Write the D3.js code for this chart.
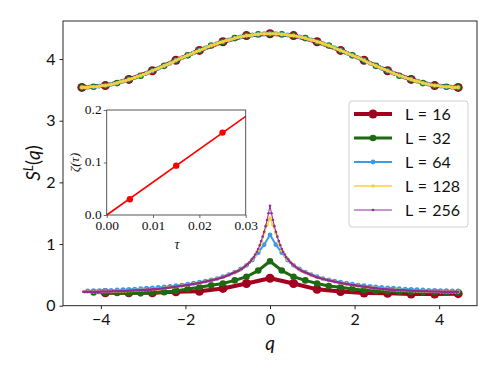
<!DOCTYPE html>
<html>
<head>
<meta charset="utf-8">
<script src="https://cdn.jsdelivr.net/npm/d3@7"></script>
<style>
body { margin: 0; background: white; }
svg text { font-family: "Lato", "DejaVu Sans", sans-serif; fill: #111; }
.inset text { font-family: "Liberation Serif", "DejaVu Serif", serif; }
</style>
</head>
<body>
<script>
// ---- data ----
var sizes = [16, 32, 64, 128, 256];
var qMax = 4.45;

// upper branch, q = -qMax..qMax (L+1 points)
var top16 = [3.54,3.57,3.67,3.81,3.98,4.14,4.28,4.38,4.41,4.38,4.28,4.14,3.98,3.81,3.67,3.57,3.54];
var top32 = [3.54,3.55,3.57,3.61,3.67,3.73,3.81,3.89,3.98,4.06,4.14,4.22,4.28,4.34,4.38,4.40,
  4.41,
  4.40,4.38,4.34,4.28,4.22,4.14,4.06,3.98,3.89,3.81,3.73,3.67,3.61,3.57,3.55,3.54];
var top64 = [3.54,3.54,3.55,3.56,3.57,3.59,3.61,3.64,3.67,3.70,3.73,3.77,3.81,3.85,3.89,3.93,
  3.98,4.02,4.06,4.10,4.14,4.18,4.22,4.25,4.28,4.31,4.34,4.36,4.38,4.39,4.40,4.41,
  4.41,
  4.41,4.40,4.39,4.38,4.36,4.34,4.31,4.28,4.25,4.22,4.18,4.14,4.10,4.06,4.02,3.98,
  3.93,3.89,3.85,3.81,3.77,3.73,3.70,3.67,3.64,3.61,3.59,3.57,3.56,3.55,3.54,3.54];
var top128 = [3.54,3.54,3.54,3.55,3.55,3.55,3.56,3.57,3.57,3.58,3.59,3.60,3.61,3.63,3.64,3.65,
  3.67,3.68,3.70,3.72,3.73,3.75,3.77,3.79,3.81,3.83,3.85,3.87,3.89,3.91,3.93,3.95,
  3.98,4.00,4.02,4.04,4.06,4.08,4.10,4.12,4.14,4.16,4.18,4.20,4.22,4.23,4.25,4.27,
  4.28,4.30,4.31,4.32,4.34,4.35,4.36,4.37,4.38,4.38,4.39,4.40,4.40,4.41,4.41,4.41,
  4.41,
  4.41,4.41,4.41,4.40,4.40,4.39,4.38,4.38,4.37,4.36,4.35,4.34,4.32,4.31,4.30,4.28,
  4.27,4.25,4.23,4.22,4.20,4.18,4.16,4.14,4.12,4.10,4.08,4.06,4.04,4.02,4.00,3.98,
  3.95,3.93,3.91,3.89,3.87,3.85,3.83,3.81,3.79,3.77,3.75,3.73,3.72,3.70,3.68,3.67,
  3.65,3.64,3.63,3.61,3.60,3.59,3.58,3.57,3.57,3.56,3.55,3.55,3.55,3.54,3.54,3.54];

// lower branch, q from -qMax+step..qMax (L points)
var bot16 = [0.21,0.21,0.21,0.225,0.235,0.28,0.36,0.445,0.36,0.265,0.23,0.205,0.20,0.19,0.19,0.195];
var bot32 = [0.215,0.21,0.205,0.20,0.20,0.21,0.22,0.24,0.27,0.30,0.33,0.36,0.41,0.47,0.57,
  0.72,
  0.57,0.47,0.41,0.36,0.32,0.30,0.27,0.25,0.24,0.235,0.23,0.225,0.22,0.22,0.215,0.215];
var bot64 = [0.24,0.245,0.245,0.25,0.25,0.255,0.26,0.265,0.27,0.275,0.285,0.29,0.295,0.305,0.315,0.325,
  0.335,0.35,0.365,0.38,0.40,0.42,0.44,0.47,0.505,0.545,0.595,0.655,0.74,0.86,0.99,
  1.15,
  0.99,0.86,0.74,0.655,0.595,0.545,0.505,0.47,0.44,0.42,0.40,0.38,0.365,0.35,0.335,0.325,
  0.315,0.305,0.295,0.29,0.285,0.275,0.27,0.265,0.26,0.255,0.25,0.25,0.245,0.245,0.24,0.24];
var bot128 = [0.225,0.225,0.225,0.225,0.225,0.225,0.23,0.23,0.23,0.23,0.235,0.235,0.235,0.24,0.24,0.245,
  0.245,0.25,0.25,0.255,0.255,0.26,0.26,0.265,0.27,0.275,0.28,0.285,0.29,0.295,0.30,0.31,
  0.315,0.32,0.33,0.34,0.345,0.35,0.36,0.37,0.38,0.39,0.40,0.41,0.42,0.435,0.45,0.46,
  0.48,0.50,0.52,0.54,0.56,0.59,0.62,0.66,0.70,0.75,0.82,0.90,1.01,1.18,1.31,
  1.42,
  1.31,1.18,1.01,0.90,0.82,0.75,0.70,0.66,0.62,0.59,0.56,0.54,0.52,0.50,0.48,
  0.46,0.45,0.435,0.42,0.41,0.40,0.39,0.38,0.37,0.36,0.35,0.345,0.34,0.33,0.32,0.315,
  0.31,0.30,0.295,0.29,0.285,0.28,0.275,0.27,0.265,0.26,0.26,0.255,0.255,0.25,0.25,0.245,
  0.245,0.24,0.24,0.235,0.235,0.235,0.23,0.23,0.23,0.23,0.225,0.225,0.225,0.225,0.225,0.225,
  0.225];
var bot256 = [0.225,0.225,0.225,0.225,0.225,0.225,0.225,0.225,
  0.225,0.225,0.225,0.225,0.23,0.23,0.23,0.23,
  0.23,0.23,0.23,0.23,0.235,0.235,0.235,0.235,
  0.235,0.235,0.24,0.24,0.24,0.24,0.24,0.245,
  0.245,0.245,0.245,0.25,0.25,0.25,0.25,0.255,
  0.255,0.255,0.255,0.26,0.26,0.26,0.26,0.265,
  0.265,0.27,0.27,0.275,0.275,0.28,0.28,0.285,
  0.285,0.29,0.29,0.295,0.30,0.30,0.305,0.31,
  0.31,0.315,0.32,0.32,0.325,0.33,0.335,0.34,
  0.34,0.345,0.35,0.35,0.355,0.36,0.365,0.37,
  0.375,0.38,0.385,0.39,0.395,0.40,0.405,0.41,
  0.415,0.42,0.43,0.435,0.44,0.45,0.455,0.46,
  0.47,0.48,0.49,0.50,0.51,0.52,0.53,0.54,
  0.55,0.56,0.57,0.59,0.60,0.62,0.64,0.66,
  0.68,0.70,0.73,0.76,0.79,0.83,0.87,0.92,
  0.98,1.05,1.12,1.20,1.29,1.39,1.50,
  1.62,
  1.50,1.39,1.29,1.20,1.12,1.05,0.98,
  0.92,0.87,0.83,0.79,0.76,0.73,0.70,0.68,
  0.66,0.64,0.62,0.60,0.59,0.57,0.56,0.55,
  0.54,0.53,0.52,0.51,0.50,0.49,0.48,0.47,
  0.46,0.455,0.45,0.44,0.435,0.43,0.42,0.415,
  0.41,0.405,0.40,0.395,0.39,0.385,0.38,0.375,
  0.37,0.365,0.36,0.355,0.35,0.35,0.345,0.34,
  0.34,0.335,0.33,0.325,0.32,0.32,0.315,0.31,
  0.31,0.305,0.30,0.30,0.295,0.29,0.29,0.285,
  0.285,0.28,0.28,0.275,0.275,0.27,0.27,0.265,
  0.265,0.26,0.26,0.26,0.26,0.255,0.255,0.255,
  0.255,0.25,0.25,0.25,0.25,0.245,0.245,0.245,
  0.245,0.24,0.24,0.24,0.24,0.24,0.235,0.235,
  0.235,0.235,0.235,0.235,0.23,0.23,0.23,0.23,
  0.23,0.23,0.23,0.23,0.225,0.225,0.225,0.225,
  0.225,0.225,0.225,0.225,0.225,0.225,0.225,0.225,
  0.225];

// inset: zeta(tau)
var tauVals = [0.005, 0.015, 0.025];
var zetaVals = [0.030, 0.094, 0.157];
var fitTau = [0, 0.03];
var fitZeta = [0, 0.188];

var xTicks = [-4, -2, 0, 2, 4];
var yTicks = [0, 1, 2, 3, 4];
var insetXTicks = [0, 0.01, 0.02, 0.03];
var insetYTicks = [0, 0.1, 0.2];

// ---- styles ----
var colors = ["#a1001f", "#1d6a12", "#3a9be8", "#f5d23c", "#8e2c9c"];
var lineW = [4, 3, 2, 1.4, 1];
var markR = [4.5, 3.3, 2.4, 1.8, 1.3];

var topData = [top16, top32, top64, top128, null];
var botData = [bot16, bot32, bot64, bot128, bot256];

var width = 498, height = 374;

var svg = d3.select("body").append("svg")
    .attr("width", width)
    .attr("height", height);

var x = d3.scaleLinear().domain([-4.895, 4.895]).range([63, 477]);
var y = d3.scaleLinear().domain([0, 4.617]).range([305.7, 21]);

// lattice momenta
function topPts(L, vals) {
  return vals.map(function(v, i) { return [(i - L / 2) * qMax / (L / 2), v]; });
}
function botPts(L, vals) {
  return vals.map(function(v, i) { return [(i - L / 2 + 1) * qMax / (L / 2), v]; });
}

var line = d3.line()
    .x(function(d) { return x(d[0]); })
    .y(function(d) { return y(d[1]); });

var g = svg.append("g");

function drawSeries(pts, k) {
  g.append("path")
    .attr("d", line(pts))
    .attr("fill", "none")
    .attr("stroke", colors[k])
    .attr("stroke-width", lineW[k])
    .attr("stroke-linejoin", "round");
  g.append("g").selectAll("circle")
    .data(pts)
    .enter().append("circle")
    .attr("cx", function(d) { return x(d[0]); })
    .attr("cy", function(d) { return y(d[1]); })
    .attr("r", markR[k])
    .attr("fill", colors[k]);
}

sizes.forEach(function(L, k) {
  if (topData[k]) drawSeries(topPts(L, topData[k]), k);
  drawSeries(botPts(L, botData[k]), k);
});

// axes
var fmt = function(d) { return d < 0 ? "\u2212" + Math.abs(d) : "" + d; };

var xAxis = svg.append("g")
    .attr("transform", "translate(0,305.7)")
    .call(d3.axisBottom(x).tickValues(xTicks).tickSize(3.5).tickPadding(4).tickFormat(fmt));
var yAxis = svg.append("g")
    .attr("transform", "translate(63,0)")
    .call(d3.axisLeft(y).tickValues(yTicks).tickSize(3.5).tickPadding(4).tickFormat(fmt));

[xAxis, yAxis].forEach(function(a) {
  a.select(".domain").remove();
  a.selectAll("text").style("font-size", "16px").attr("fill", "#111");
  a.selectAll("line").attr("stroke", "#111").attr("stroke-width", 0.9);
});

svg.append("rect")
    .attr("x", 63).attr("y", 21)
    .attr("width", 414).attr("height", 284.7)
    .attr("fill", "none")
    .attr("stroke", "#111")
    .attr("stroke-width", 0.9);

svg.append("text")
    .attr("x", 270).attr("y", 350)
    .attr("text-anchor", "middle")
    .style("font-size", "19px")
    .style("font-style", "italic")
    .text("q");

var ylab = svg.append("text")
    .attr("transform", "translate(40,163) rotate(-90)")
    .attr("text-anchor", "middle")
    .style("font-size", "19px");
ylab.append("tspan").style("font-style", "italic").text("S");
ylab.append("tspan").attr("dy", -7).style("font-size", "13px").style("font-style", "italic").text("L");
ylab.append("tspan").attr("dy", 7).text("(");
ylab.append("tspan").style("font-style", "italic").text("q");
ylab.append("tspan").text(")");

// ---- inset ----
var ix = d3.scaleLinear().domain([0, 0.03]).range([106.7, 245.7]);
var iy = d3.scaleLinear().domain([0, 0.2]).range([215, 110]);

var inset = svg.append("g").attr("class", "inset");

inset.append("rect")
    .attr("x", 106.7).attr("y", 110)
    .attr("width", 139).attr("height", 105)
    .attr("fill", "white");

inset.append("path")
    .attr("d", d3.line().x(function(d) { return ix(d[0]); }).y(function(d) { return iy(d[1]); })(fitTau.map(function(t, i) { return [t, fitZeta[i]]; })))
    .attr("fill", "none")
    .attr("stroke", "#ff0000")
    .attr("stroke-width", 1.6);

inset.selectAll("circle.pt")
    .data(tauVals)
    .enter().append("circle")
    .attr("class", "pt")
    .attr("cx", function(d) { return ix(d); })
    .attr("cy", function(d, i) { return iy(zetaVals[i]); })
    .attr("r", 3.2)
    .attr("fill", "#ff0000");

var ixAxis = inset.append("g")
    .attr("transform", "translate(0,215)")
    .call(d3.axisBottom(ix).tickValues(insetXTicks).tickSize(3).tickPadding(2.5).tickFormat(d3.format(".2f")));
var iyAxis = inset.append("g")
    .attr("transform", "translate(106.7,0)")
    .call(d3.axisLeft(iy).tickValues(insetYTicks).tickSize(3).tickPadding(2).tickFormat(d3.format(".1f")));

[ixAxis, iyAxis].forEach(function(a) {
  a.select(".domain").remove();
  a.selectAll("text").style("font-size", "13.5px").attr("fill", "#222");
  a.selectAll("line").attr("stroke", "#444").attr("stroke-width", 0.8);
});
iyAxis.selectAll("text").attr("dy", "0.25em");

inset.append("rect")
    .attr("x", 106.7).attr("y", 110)
    .attr("width", 139).attr("height", 105)
    .attr("fill", "none")
    .attr("stroke", "#444")
    .attr("stroke-width", 0.9);

inset.append("text")
    .attr("x", 177).attr("y", 249)
    .attr("text-anchor", "middle")
    .style("font-size", "14px")
    .style("font-style", "italic")
    .text("\u03c4");

inset.append("text")
    .attr("transform", "translate(79,162.5) rotate(-90)")
    .attr("text-anchor", "middle")
    .style("font-size", "13.5px")
    .style("font-style", "italic")
    .text("\u03b6(\u03c4)");

// ---- legend ----
var legend = svg.append("g");
legend.append("rect")
    .attr("x", 349).attr("y", 101)
    .attr("width", 119).attr("height", 126)
    .attr("rx", 3)
    .attr("fill", "white")
    .attr("fill-opacity", 0.85)
    .attr("stroke", "#d0d0d0")
    .attr("stroke-width", 1);

var rowY = d3.scalePoint().domain(sizes).range([114, 210]);

sizes.forEach(function(L, k) {
  var yy = rowY(L);
  legend.append("line")
    .attr("x1", 354).attr("x2", 392)
    .attr("y1", yy).attr("y2", yy)
    .attr("stroke", colors[k])
    .attr("stroke-width", lineW[k]);
  legend.append("circle")
    .attr("cx", 373).attr("cy", yy)
    .attr("r", markR[k])
    .attr("fill", colors[k]);
  legend.append("text")
    .attr("x", 405).attr("y", yy)
    .attr("dy", "0.36em")
    .style("font-size", "16px")
    .style("word-spacing", "1px")
    .text("L = " + L);
});
</script>
</body>
</html>
